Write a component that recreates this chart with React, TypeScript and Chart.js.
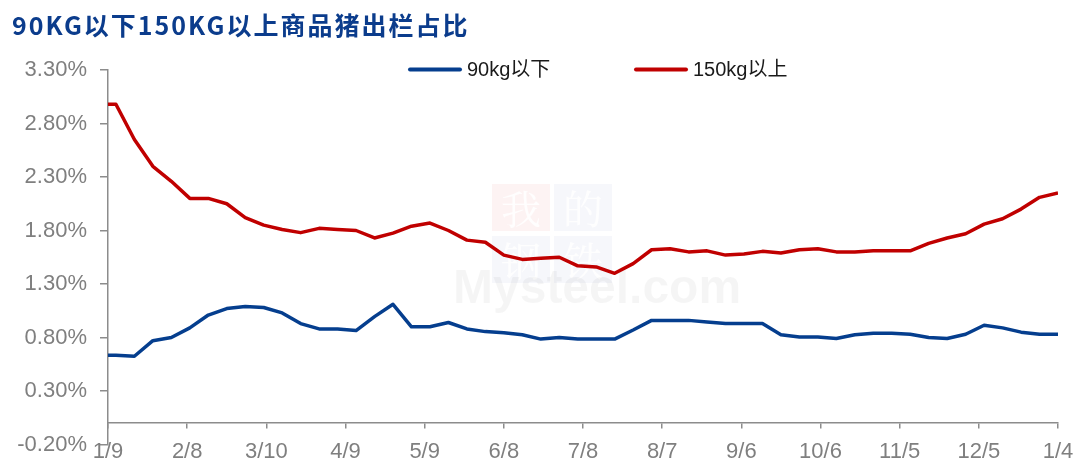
import React, { useEffect, useRef } from 'react';
import { Chart, registerables } from 'chart.js';

Chart.register(...registerables);

const TITLE = '90KG以下150KG以上商品猪出栏占比';
const AXIS_START = '2023-01-09';
const X_TICK_STEP_DAYS = 30;
const xTickLabels = ['1/9', '2/8', '3/10', '4/9', '5/9', '6/8', '7/8', '8/7', '9/6', '10/6', '11/5', '12/5', '1/4'];
const yTickValues = [-0.2, 0.3, 0.8, 1.3, 1.8, 2.3, 2.8, 3.3];
const X_AXIS_CROSS_VALUE = 0;

const dates = [
  '2023-01-05', '2023-01-12', '2023-01-19', '2023-01-26',
  '2023-02-02', '2023-02-09', '2023-02-16', '2023-02-23',
  '2023-03-02', '2023-03-09', '2023-03-16', '2023-03-23', '2023-03-30',
  '2023-04-06', '2023-04-13', '2023-04-20', '2023-04-27',
  '2023-05-04', '2023-05-11', '2023-05-18', '2023-05-25',
  '2023-06-01', '2023-06-08', '2023-06-15', '2023-06-22', '2023-06-29',
  '2023-07-06', '2023-07-13', '2023-07-20', '2023-07-27',
  '2023-08-03', '2023-08-10', '2023-08-17', '2023-08-24', '2023-08-31',
  '2023-09-07', '2023-09-14', '2023-09-21', '2023-09-28',
  '2023-10-05', '2023-10-12', '2023-10-19', '2023-10-26',
  '2023-11-02', '2023-11-09', '2023-11-16', '2023-11-23', '2023-11-30',
  '2023-12-07', '2023-12-14', '2023-12-21', '2023-12-28',
  '2024-01-04',
];

const seriesNames = ['90kg以下', '150kg以上'];

const below90 = [
  0.635, 0.635, 0.625, 0.77, 0.80, 0.89, 1.01, 1.07, 1.09, 1.08,
  1.03, 0.93, 0.88, 0.88, 0.865, 0.995, 1.11, 0.90, 0.90, 0.94,
  0.88, 0.855, 0.845, 0.825, 0.785, 0.80, 0.785, 0.785, 0.785, 0.87,
  0.96, 0.96, 0.96, 0.945, 0.93, 0.93, 0.93, 0.825, 0.805, 0.805,
  0.79, 0.825, 0.84, 0.84, 0.83, 0.80, 0.79, 0.83, 0.915, 0.89,
  0.85, 0.83, 0.83,
];

const above150 = [
  2.98, 2.98, 2.65, 2.40, 2.26, 2.10, 2.10, 2.05, 1.92, 1.85,
  1.81, 1.78, 1.82, 1.81, 1.80, 1.73, 1.775, 1.84, 1.87, 1.80,
  1.71, 1.69, 1.57, 1.53, 1.54, 1.55, 1.47, 1.46, 1.40, 1.49,
  1.62, 1.63, 1.60, 1.61, 1.57, 1.58, 1.605, 1.59, 1.62, 1.63,
  1.60, 1.60, 1.61, 1.61, 1.61, 1.68, 1.73, 1.77, 1.86, 1.91,
  2.00, 2.11, 2.15,
];

const seriesColors = ['#053e8e', '#c00000'];
const AXIS_COLOR = '#8c8c8c';
const LABEL_COLOR = '#7f7f7f';
const TITLE_COLOR = '#0b3c8c';
const LATIN_FONT = '"Liberation Sans", Arial, "Noto Sans CJK SC", sans-serif';
const CJK_FONT = '"Noto Sans CJK SC", "Liberation Sans", sans-serif';

const decorPlugin = {
  id: 'decor',
  beforeDatasetsDraw(chart: any) {
    const ctx = chart.ctx as CanvasRenderingContext2D;
    ctx.save();
    const boxes = [
      { x: 492, y: 184, t: '我', c: 'rgba(230,80,80,0.07)' },
      { x: 554, y: 184, t: '的', c: 'rgba(70,100,170,0.05)' },
      { x: 492, y: 236, t: '钢', c: 'rgba(70,100,170,0.05)' },
      { x: 554, y: 236, t: '铁', c: 'rgba(70,100,170,0.05)' },
    ];
    for (const b of boxes) {
      ctx.fillStyle = b.c;
      ctx.fillRect(b.x, b.y, 58, 47);
      ctx.fillStyle = 'rgba(255,255,255,0.9)';
      ctx.font = '40px "Noto Serif CJK SC", "Noto Sans CJK SC", serif';
      ctx.textAlign = 'center';
      ctx.textBaseline = 'middle';
      ctx.fillText(b.t, b.x + 29, b.y + 25);
    }
    ctx.fillStyle = 'rgba(0,0,0,0.04)';
    ctx.font = 'bold 48px "Liberation Sans", Arial, sans-serif';
    ctx.textAlign = 'left';
    ctx.textBaseline = 'alphabetic';
    ctx.fillText('Mysteel.com', 453, 303);
    ctx.restore();
  },
  afterDraw(chart: any) {
    const ctx = chart.ctx as CanvasRenderingContext2D;
    ctx.save();
    (ctx as any).letterSpacing = '2px';
    ctx.fillStyle = TITLE_COLOR;
    ctx.font = `bold 25px ${CJK_FONT}`;
    ctx.textAlign = 'left';
    ctx.textBaseline = 'middle';
    ctx.fillText(TITLE, 12, 25);
    (ctx as any).letterSpacing = '0px';
    const legendX = [408, 634];
    const legendY = 69.5;
    chart.data.datasets.forEach((ds: any, i: number) => {
      const x0 = legendX[i];
      ctx.strokeStyle = ds.borderColor;
      ctx.lineWidth = 4;
      ctx.lineCap = 'round';
      ctx.beginPath();
      ctx.moveTo(x0 + 2, legendY);
      ctx.lineTo(x0 + 52, legendY);
      ctx.stroke();
      ctx.fillStyle = '#1a1a1a';
      ctx.font = `20px ${LATIN_FONT}`;
      ctx.textAlign = 'left';
      ctx.textBaseline = 'middle';
      ctx.fillText(ds.label, x0 + 59, legendY + 1);
    });
    ctx.restore();
  },
};

export default function App() {
  const ref = useRef<HTMLCanvasElement | null>(null);

  useEffect(() => {
    const canvas = ref.current;
    if (!canvas) return;
    const start = Date.parse(AXIS_START);
    const toDay = (s: string) => (Date.parse(s) - start) / 86400000;
    const mk = (vals: number[]) => dates.map((d, i) => ({ x: toDay(d), y: vals[i] }));
    const series = [below90, above150];

    const chart = new Chart(canvas, {
      type: 'line',
      data: {
        datasets: series.map((vals, i) => ({
          label: seriesNames[i],
          data: mk(vals),
          borderColor: seriesColors[i],
          backgroundColor: seriesColors[i],
          borderWidth: 3.5,
          pointRadius: 0,
          tension: 0,
          borderJoinStyle: 'round' as const,
          clip: 0,
        })),
      },
      options: {
        responsive: false,
        animation: false,
        events: [],
        layout: { padding: { top: 70, right: 21, bottom: 19.5, left: 0 } },
        plugins: {
          legend: { display: false },
          tooltip: { enabled: false },
          title: { display: false },
        },
        scales: {
          x: {
            type: 'linear',
            position: { y: X_AXIS_CROSS_VALUE },
            min: 0,
            max: X_TICK_STEP_DAYS * (xTickLabels.length - 1),
            afterBuildTicks: (s: any) => {
              s.ticks = xTickLabels.map((_, i) => ({ value: i * X_TICK_STEP_DAYS }));
            },
            afterFit: (s: any) => {
              s.paddingLeft = 0;
              s.paddingRight = 0;
            },
            grid: { drawOnChartArea: false, drawTicks: true, tickLength: 5, color: AXIS_COLOR, lineWidth: 1.5 },
            border: { display: true, color: AXIS_COLOR, width: 1.5 },
            ticks: {
              callback: (_v: any, i: number) => xTickLabels[i],
              color: LABEL_COLOR,
              font: { family: LATIN_FONT, size: 22 },
              padding: 11,
              maxRotation: 0,
              autoSkip: false,
            },
          },
          y: {
            type: 'linear',
            position: 'left',
            min: yTickValues[0],
            max: yTickValues[yTickValues.length - 1],
            afterBuildTicks: (s: any) => {
              s.ticks = yTickValues.map((v) => ({ value: v }));
            },
            afterFit: (s: any) => {
              s.width = 108;
              s.paddingTop = 0;
              s.paddingBottom = 0;
            },
            grid: { drawOnChartArea: false, drawTicks: true, tickLength: 8, color: AXIS_COLOR, lineWidth: 1.5 },
            border: { display: true, color: AXIS_COLOR, width: 1.5 },
            ticks: {
              callback: (v: any) => Number(v).toFixed(2) + '%',
              color: LABEL_COLOR,
              font: { family: LATIN_FONT, size: 22 },
              padding: 13,
            },
          },
        },
      },
      plugins: [decorPlugin],
    } as any);

    return () => chart.destroy();
  }, []);

  return (
    <div style={{ position: 'fixed', left: 0, top: 0, width: 1079, height: 464, background: '#fff' }}>
      <canvas ref={ref} width={1079} height={464} style={{ display: 'block' }} />
    </div>
  );
}
